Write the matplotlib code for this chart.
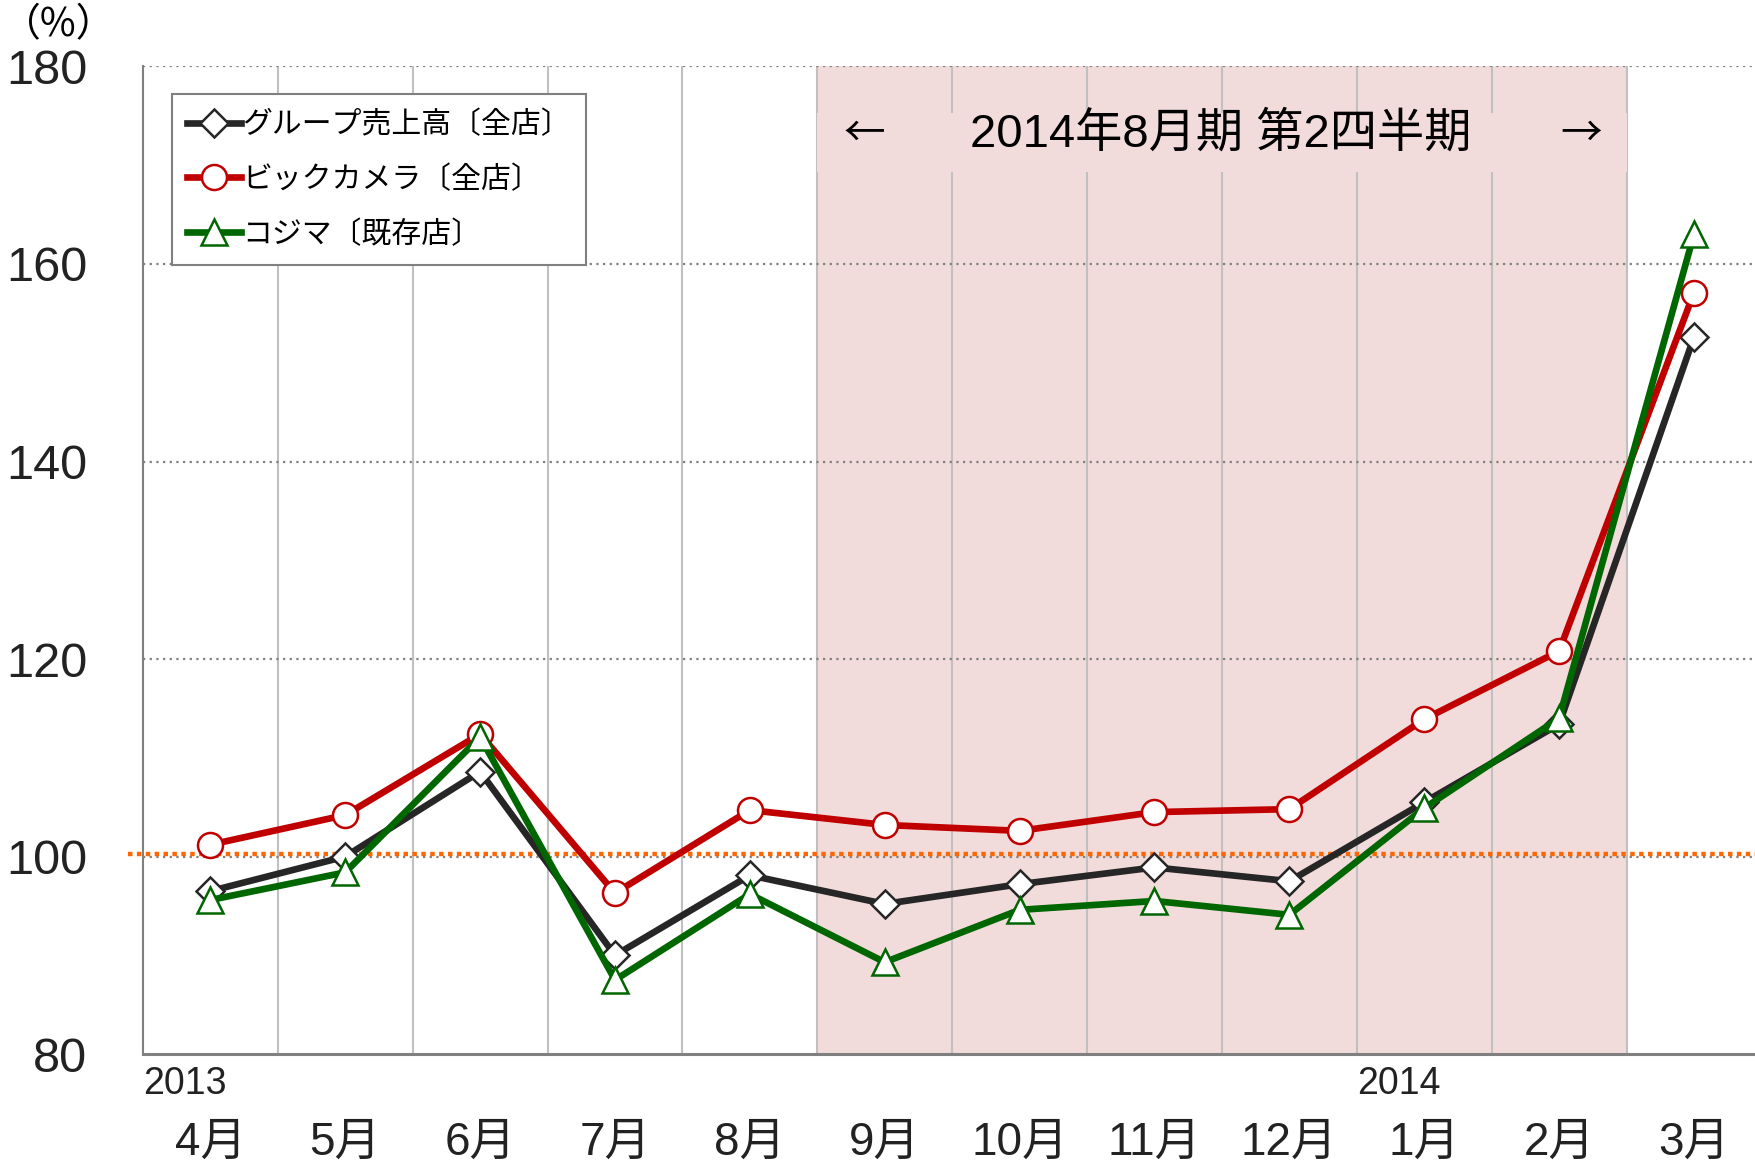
import matplotlib
matplotlib.use("Agg")
import matplotlib.pyplot as plt
import matplotlib.transforms as mtransforms
from matplotlib.patches import Rectangle

plt.rcParams['font.family'] = ['Liberation Sans', 'Noto Sans CJK JP']

months = ['4月', '5月', '6月', '7月', '8月', '9月', '10月', '11月', '12月', '1月', '2月', '3月']
years = ['2013', '2014']
year_pos = [-0.5, 8.5]

group_all = [96.5, 100.0, 108.6, 90.0, 98.1, 95.2, 97.2, 98.9, 97.5, 105.5, 113.4, 152.6]
bic_all = [101.2, 104.2, 112.4, 96.3, 104.7, 103.2, 102.6, 104.5, 104.8, 113.9, 120.8, 157.1]
kojima_exist = [95.6, 98.4, 112.1, 87.5, 96.2, 89.3, 94.6, 95.5, 94.1, 104.9, 114.0, 163.0]

labels = ['グループ売上高〔全店〕', 'ビックカメラ〔全店〕', 'コジマ〔既存店〕']
quarter_label = '2014年8月期 第2四半期'
quarter_span = (4.5, 10.5)

fig = plt.figure(figsize=(17.56, 11.66), dpi=100)
ax = fig.add_axes([0.0814, 0.096, 0.9186, 0.847])

x = list(range(len(months)))

# shaded quarter
ax.axvspan(quarter_span[0], quarter_span[1], color='#f2dcdb', zorder=0.5, lw=0)

# vertical grid at category boundaries
for b in range(1, 12):
    ax.axvline(b - 0.5, color='#c0c0c0', lw=1.5, zorder=1)

# horizontal dotted grid
for yv in [100, 120, 140, 160, 180]:
    ax.axhline(yv, color='#808080', lw=1.6, ls=(0, (1, 2)), zorder=1.2)

# mask behind the quarter label
ax.add_patch(Rectangle((quarter_span[0], 169.3), quarter_span[1] - quarter_span[0], 6.0,
                       facecolor='#f2dcdb', edgecolor='none', zorder=1.5))
ax.text(7.49, 173.1, quarter_label, ha='center', va='center', fontsize=34, zorder=3)
ax.text(4.85, 173.1, '←', ha='center', va='center', fontsize=30, zorder=3,
        family=['Noto Sans CJK JP'])
ax.text(10.16, 173.1, '→', ha='center', va='center', fontsize=30, zorder=3,
        family=['Noto Sans CJK JP'])

# reference line at 100
trans = mtransforms.blended_transform_factory(ax.transAxes, ax.transData)
ax.plot([-0.009, 1.0], [100.3, 100.3], transform=trans, color='#ff6600', lw=3.2,
        ls=(0, (1, 1)), clip_on=False, zorder=2)

ax.plot(x, group_all, color='#262626', lw=4.8, marker='D', ms=14, mfc='white',
        mec='#262626', mew=1.8, label=labels[0], zorder=4)
ax.plot(x, bic_all, color='#c00000', lw=4.8, marker='o', ms=18, mfc='white',
        mec='#c00000', mew=1.8, label=labels[1], zorder=5)
ax.plot(x, kojima_exist, color='#006600', lw=4.8, marker='^', ms=19, mfc='white',
        mec='#006600', mew=1.8, label=labels[2], zorder=6)

ax.set_xlim(-0.5, 11.46)
ax.set_ylim(80, 180)
ax.set_yticks([80, 100, 120, 140, 160, 180])
ax.tick_params(axis='y', length=0, pad=40, labelsize=35, colors='#222222')
ax.set_xticks(x)
ax.set_xticklabels(months)
ax.tick_params(axis='x', length=0, pad=48, labelsize=33, colors='#222222')

for yl, xp in zip(years, year_pos):
    ax.text(xp, 78.8, yl, ha='left', va='top', fontsize=27, color='#222222')

ax.text(-0.052, 1.042, '（%）', transform=ax.transAxes, ha='center', va='center',
        fontsize=28, family=['Noto Sans CJK JP'])

for s in ['top', 'right']:
    ax.spines[s].set_visible(False)
ax.spines['left'].set_color('#808080')
ax.spines['left'].set_linewidth(1.5)
ax.spines['bottom'].set_color('#808080')
ax.spines['bottom'].set_linewidth(2.2)

leg = ax.legend(loc='upper left', bbox_to_anchor=(0.018, 0.972),
                prop={'family': ['Noto Sans CJK JP'], 'size': 21.5},
                fancybox=False, edgecolor='#808080', framealpha=1,
                handlelength=1.8, handletextpad=0.05, labelspacing=0.8,
                borderpad=0.5, borderaxespad=0)
leg.get_frame().set_linewidth(1.5)
leg.set_zorder(10)

fig.savefig('out.png', dpi=100)
